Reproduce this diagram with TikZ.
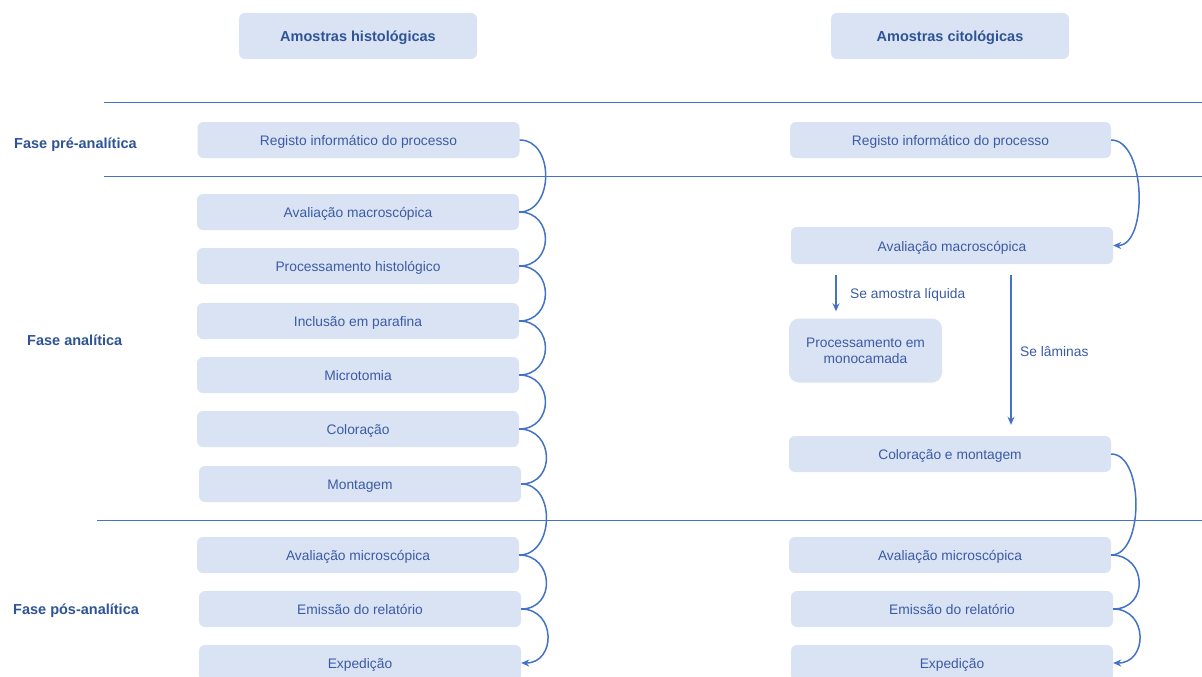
\documentclass[tikz,border=0pt]{standalone}
\usepackage{fontspec}
\setmainfont{Liberation Sans}
\usetikzlibrary{arrows.meta}
\definecolor{boxfill}{HTML}{DAE3F3}
\definecolor{txt}{HTML}{3B5BA5}
\definecolor{btxt}{HTML}{2F5496}
\definecolor{ln}{HTML}{4472C4}
\begin{document}
\begin{tikzpicture}[x=1pt,y=-1pt,
  boxbase/.style={fill=boxfill, draw=none, rounded corners=6pt, minimum width=322pt, minimum height=36pt, inner sep=0pt, text=txt, font=\fontsize{13.8}{16}\selectfont, align=center},
  box/.style={boxbase, text height=12.2pt, text depth=1pt},
  hbox/.style={box, minimum width=238pt, minimum height=46pt, text=btxt, font=\fontsize{14.5}{16}\selectfont\bfseries},
  phase/.style={text=btxt, font=\fontsize{14.5}{16}\selectfont\bfseries, anchor=west, inner sep=0pt, text height=12.2pt, text depth=1pt},
  lbl/.style={text=txt, font=\fontsize{13.8}{16}\selectfont, anchor=west, inner sep=0pt, text height=12.2pt, text depth=1pt},
  sep/.style={draw=ln, line width=1pt},
  link/.style={draw=ln, line width=1.5pt},
  arr/.style={link, -{Stealth[length=8pt,width=7pt]}}
]
\useasboundingbox (0,0) rectangle (1202,677);
\fill[white] (0,0) rectangle (1202,677);

% separator lines
\draw[sep] (104,102) -- (1202,102);
\draw[sep] (104,176) -- (1202,176);
\draw[sep] (97,520) -- (1202,520);

% headers
\node[hbox] (h1) at (358,36) {Amostras histológicas};
\node[hbox] (h2) at (950,36) {Amostras citológicas};

% phases
\node[phase] (p1) at (14,143) {Fase pré-analítica};
\node[phase] (p2) at (27,340) {Fase analítica};
\node[phase] (p3) at (13,609) {Fase pós-analítica};

% left column
\node[box] (l1) at (358.5,140) {Registo informático do processo};
\node[box] (l2) at (358,212) {Avaliação macroscópica};
\node[box] (l3) at (358,266) {Processamento histológico};
\node[box] (l4) at (358,321) {Inclusão em parafina};
\node[box] (l5) at (358,375) {Microtomia};
\node[box] (l6) at (358,429) {Coloração};
\node[box] (l7) at (360,484) {Montagem};
\node[box] (l8) at (358,555) {Avaliação microscópica};
\node[box] (l9) at (360,609) {Emissão do relatório};
\node[box] (l10) at (360,663) {Expedição};

\draw[link] (l1.east) .. controls +(35,0) and +(35,0) .. (l2.east);
\draw[link] (l2.east) .. controls +(35,0) and +(35,0) .. (l3.east);
\draw[link] (l3.east) .. controls +(35,0) and +(35,0) .. (l4.east);
\draw[link] (l4.east) .. controls +(35,0) and +(35,0) .. (l5.east);
\draw[link] (l5.east) .. controls +(35,0) and +(35,0) .. (l6.east);
\draw[link] (l6.east) .. controls +(35,0) and +(35,0) .. (l7.east);
\draw[link] (l7.east) .. controls +(35,0) and +(35,0) .. (l8.east);
\draw[link] (l8.east) .. controls +(35,0) and +(35,0) .. (l9.east);
\draw[arr] (l9.east) .. controls +(35,0) and +(35,0) .. (l10.east);

% right column
\node[box, minimum width=321pt] (r1) at (950.5,140) {Registo informático do processo};
\node[box, minimum height=37pt] (r2) at (952,245.5) {Avaliação macroscópica};
\node[boxbase, minimum width=153pt, minimum height=64pt, rounded corners=10pt] (r3) at (865.5,350.5) {Processamento em\\monocamada};
\node[box] (r4) at (950,454) {Coloração e montagem};
\node[box] (r5) at (950,555) {Avaliação microscópica};
\node[box] (r6) at (952,609) {Emissão do relatório};
\node[box] (r7) at (952,663) {Expedição};

\draw[arr] (r1.east) .. controls +(35,0) and +(35,0) .. (r2.east);
\draw[link] (r4.east) .. controls +(33,0) and +(33,0) .. (r5.east);
\draw[link] (r5.east) .. controls +(36,0) and +(36,0) .. (r6.east);
\draw[arr] (r6.east) .. controls +(35,0) and +(35,0) .. (r7.east);

\coordinate (c1) at (836,0);
\coordinate (c2) at (1011,0);
\draw[arr, shorten <=11pt, shorten >=7pt] (r2.south -| c1) -- (r3.north -| c1);
\draw[arr, shorten <=11pt, shorten >=11pt] (r2.south -| c2) -- (r4.north -| c2);
\node[lbl] (t1) at (850,293) {Se amostra líquida};
\node[lbl] (t2) at (1020,351) {Se lâminas};
\end{tikzpicture}
\end{document}
